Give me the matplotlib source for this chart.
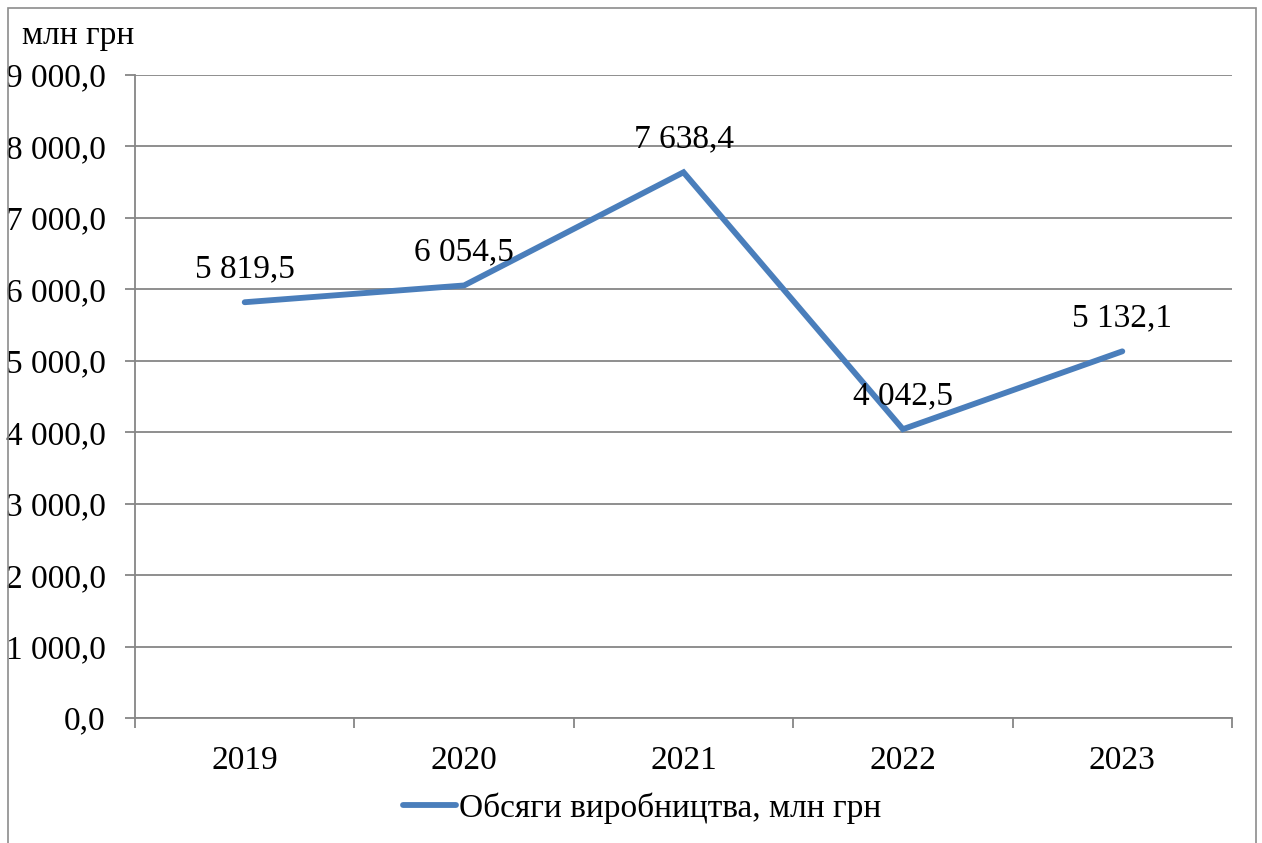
import matplotlib
matplotlib.use("Agg")
import matplotlib.pyplot as plt
from matplotlib.lines import Line2D
from matplotlib.patches import Rectangle

years = ["2019", "2020", "2021", "2022", "2023"]
values = [5819.5, 6054.5, 7638.4, 4042.5, 5132.1]
value_labels = ["5 819,5", "6 054,5", "7 638,4", "4 042,5", "5 132,1"]
yticks = [0, 1000, 2000, 3000, 4000, 5000, 6000, 7000, 8000, 9000]
ytick_labels = ["0,0", "1 000,0", "2 000,0", "3 000,0", "4 000,0", "5 000,0",
                "6 000,0", "7 000,0", "8 000,0", "9 000,0"]
unit_label = "млн грн"
series_name = "Обсяги виробництва, млн грн"

plt.rcParams['font.family'] = ['Liberation Serif', 'DejaVu Serif']
W, H = 1262, 843
fig = plt.figure(figsize=(W / 100, H / 100), dpi=100)
fig.patch.set_facecolor("white")

# outer frame (bottom edge falls outside the canvas, as in the reference)
fig.add_artist(Rectangle((8 / W, -5 / H), (1256 - 8) / W, (H - 8 + 5) / H,
                         transform=fig.transFigure, fill=False,
                         edgecolor="#8c8c8c", linewidth=1.2))

ax = fig.add_axes([135 / W, 1 - 718 / H, (1232 - 135) / W, (718 - 75) / H])
grid_c = "#868686"
line_c = "#4a7ebb"
fs = 24

x = list(range(len(years)))
ax.plot(x, values, color=line_c, linewidth=4.2, solid_capstyle="round",
        solid_joinstyle="miter")
for xi, v, lab in zip(x, values, value_labels):
    ax.annotate(lab, (xi, v), xytext=(0, 24), textcoords="offset points",
                ha="center", va="center", fontsize=fs, color="black")

ax.set_xlim(-0.5, len(years) - 0.5)
ax.set_ylim(0, 9000)
ax.set_yticks(yticks)
ax.set_yticklabels(ytick_labels, fontsize=fs)
ax.set_xticks(x)
ax.set_xticklabels(years, fontsize=fs)
ax.set_xticks([i - 0.5 for i in range(len(years) + 1)], minor=True)
ax.tick_params(axis="x", which="major", length=0, pad=20)
ax.tick_params(axis="x", which="minor", length=7, width=1.3, color=grid_c,
               direction="out")
ax.tick_params(axis="y", length=7, width=1.3, color=grid_c, pad=14)

ax.yaxis.grid(True, color=grid_c, linewidth=1.3)
ax.set_axisbelow(True)
for s in ["top", "right"]:
    ax.spines[s].set_visible(False)
ax.spines["left"].set_color(grid_c)
ax.spines["left"].set_linewidth(1.3)
ax.spines["bottom"].set_color(grid_c)
ax.spines["bottom"].set_linewidth(1.3)

fig.text(22 / W, 1 - 36 / H, unit_label, fontsize=fs, ha="left", va="center")

handle = Line2D([0], [0], color=line_c, linewidth=4.2, solid_capstyle="round")
fig.legend([handle], [series_name], loc="center", bbox_to_anchor=(642 / W, 1 - 808 / H),
           frameon=False, fontsize=fs, handlelength=1.6, handletextpad=0.08)

fig.savefig("out.png", dpi=100)
